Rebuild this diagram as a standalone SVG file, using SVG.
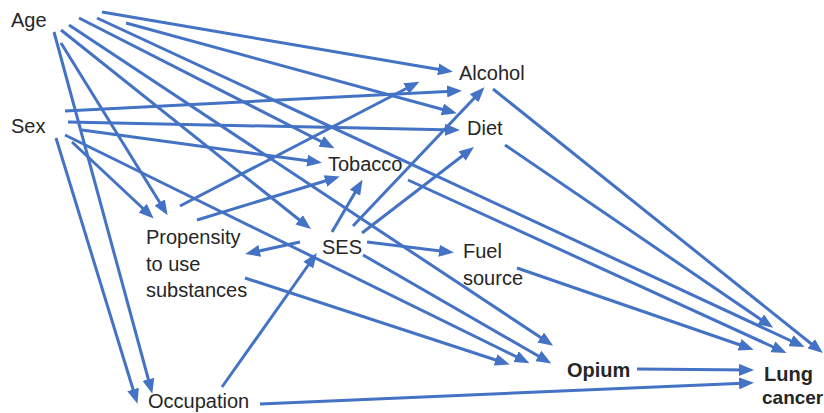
<svg xmlns="http://www.w3.org/2000/svg" width="824" height="413" viewBox="0 0 824 413">
<style>
.lbl{font-family:"Liberation Sans",Arial,sans-serif;font-size:20px;fill:#262626}
.b{font-weight:bold}
.e line{stroke:#4472C4;stroke-width:3;marker-end:url(#ah)}
</style>
<defs>
<marker id="ah" markerUnits="userSpaceOnUse" markerWidth="15" markerHeight="12" refX="10" refY="6" orient="auto">
<path d="M0,0 L15,6 L0,12 z" fill="#4472C4"/>
</marker>
</defs>
<rect width="824" height="413" fill="#fff"/>
<g id="connectors" class="e">
<line x1="102" y1="12" x2="448" y2="71"/>
<line x1="126" y1="23" x2="452" y2="112"/>
<line x1="79" y1="18" x2="330" y2="146"/>
<line x1="97" y1="18" x2="800" y2="345"/>
<line x1="69" y1="25" x2="549" y2="343"/>
<line x1="61" y1="30" x2="307" y2="226"/>
<line x1="61" y1="43" x2="165" y2="211"/>
<line x1="54" y1="32" x2="151" y2="389"/>
<line x1="65" y1="111" x2="457" y2="91"/>
<line x1="68" y1="122" x2="455" y2="130"/>
<line x1="82" y1="130" x2="317" y2="162"/>
<line x1="65" y1="135" x2="525" y2="361"/>
<line x1="72" y1="142" x2="150" y2="215"/>
<line x1="56" y1="138" x2="136" y2="399"/>
<line x1="180" y1="206" x2="415" y2="84"/>
<line x1="197" y1="220" x2="335" y2="178"/>
<line x1="245" y1="278" x2="505" y2="363"/>
<line x1="332" y1="232" x2="360" y2="184"/>
<line x1="353" y1="226" x2="481" y2="91"/>
<line x1="362" y1="233" x2="470" y2="150"/>
<line x1="300" y1="242" x2="250" y2="253"/>
<line x1="367" y1="242" x2="449" y2="252"/>
<line x1="363" y1="255" x2="547" y2="361"/>
<line x1="222" y1="387" x2="314" y2="257"/>
<line x1="260" y1="404" x2="749" y2="383"/>
<line x1="637" y1="369" x2="749" y2="370"/>
<line x1="493" y1="89" x2="819" y2="350"/>
<line x1="505" y1="145" x2="769" y2="325"/>
<line x1="408" y1="180" x2="782" y2="351"/>
<line x1="517" y1="268" x2="749" y2="348"/>
</g>
<g id="age"><text class="lbl" x="11" y="27">Age</text></g>
<g id="sex"><text class="lbl" x="11" y="133">Sex</text></g>
<g id="alcohol"><text class="lbl" x="459" y="80">Alcohol</text></g>
<g id="diet"><text class="lbl" x="467" y="135">Diet</text></g>
<g id="tobacco"><text class="lbl" x="328" y="171">Tobacco</text></g>
<g id="propensity"><text class="lbl" x="146" y="244">Propensity</text><text class="lbl" x="146" y="271">to use</text><text class="lbl" x="146" y="297">substances</text></g>
<g id="ses"><text class="lbl" x="322" y="254">SES</text></g>
<g id="fuel"><text class="lbl" x="463" y="258">Fuel</text><text class="lbl" x="463" y="285">source</text></g>
<g id="opium"><text class="lbl b" x="567" y="377">Opium</text></g>
<g id="lung"><text class="lbl b" x="764" y="381">Lung</text><text class="lbl b" x="762" y="404" style="font-size:19px">cancer</text></g>
<g id="occupation"><text class="lbl" x="148" y="408">Occupation</text></g>
</svg>
